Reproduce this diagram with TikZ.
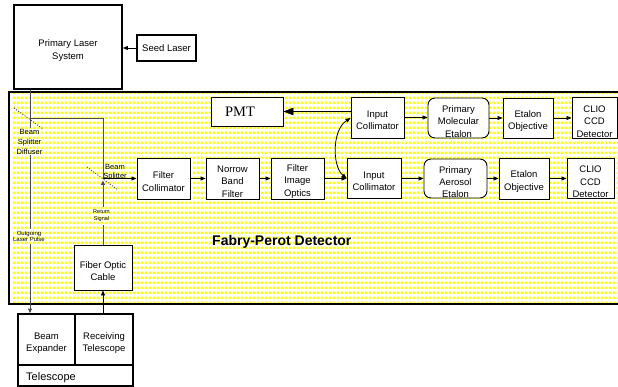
\documentclass[tikz,border=0pt]{standalone}
\usepackage{fontspec}
\setmainfont{Liberation Sans}
\newfontfamily\pmtfont{Liberation Serif}
\usetikzlibrary{arrows.meta,patterns}
\pgfdeclarepatternformonly{ydots}{\pgfqpoint{0pt}{0pt}}{\pgfqpoint{4.4pt}{4.6pt}}{\pgfqpoint{4.4pt}{4.6pt}}{\pgfpathrectangle{\pgfqpoint{1pt}{1.1pt}}{\pgfqpoint{2.5pt}{2.5pt}}\pgfusepath{fill}}
\begin{document}
\begin{tikzpicture}[x=1pt,y=-1pt,
  box/.style={draw, line width=0.9pt, fill=white, inner sep=0pt},
  bigbox/.style={draw, line width=1.7pt, fill=white, inner sep=0pt},
  rbox/.style={box, rounded corners=7pt},
  txt/.style={align=center, inner sep=0pt, font=\fontsize{9.5}{12.3}\selectfont},
  arr/.style={draw, line width=0.8pt, -{Triangle[length=5pt,width=4pt]}},
  glin/.style={draw=black!70, line width=0.9pt},
  splitter/.style={draw=black!80, line width=0.8pt, dash pattern=on 1pt off 1.6pt},
  small/.style={align=center, inner sep=0pt, font=\fontsize{7.5}{10}\selectfont}
]
\useasboundingbox (0,0) rectangle (618,387);
\clip (0,0) rectangle (618,387);

% Fabry-Perot detector region
\fill[white] (9,92) rectangle (640,304);
\fill[pattern=ydots, pattern color=yellow] (11,94) rectangle (640,302);
\draw[line width=1.7pt] (640,92) -- (9,92) -- (9,304) -- (640,304);
\node[anchor=west, inner sep=0pt, font=\bfseries\fontsize{14}{16}\selectfont] (fpd) at (212,242) {Fabry-Perot Detector};

% laser system
\node[bigbox, minimum width=108, minimum height=84] (laser) at (68,47) {};
\node[txt] (laser-t) at (68,50.5) {Primary Laser\\System};
\node[bigbox, minimum width=59, minimum height=26] (seed) at (166.5,48) {};
\node[txt] (seed-t) at (seed) {Seed Laser};
\draw[arr] (seed.west) -- (seed.west -| laser.east);

% upper row
\node[box, minimum width=72, minimum height=29] (pmt) at (247,111.5) {};
\node[inner sep=0pt, font=\pmtfont\fontsize{14.5}{16}\selectfont] (pmt-t) at (240,112) {PMT};
\node[box, minimum width=53, minimum height=41] (ic1) at (377.5,117.5) {};
\node[txt] (ic1-t) at (377.5,120.5) {Input\\Collimator};
\node[rbox, minimum width=61, minimum height=40] (pme) at (458.5,118) {};
\node[txt] (pme-t) at (458.5,121.5) {Primary\\Molecular\\Etalon};
\node[box, minimum width=50, minimum height=40] (eo1) at (528,118) {};
\node[txt] (eo1-t) at (528,121) {Etalon\\Objective};
\node[box, minimum width=45, minimum height=41] (ccd1) at (594.5,117.5) {};
\node[txt] (ccd1-t) at (594.5,121.5) {CLIO\\CCD\\Detector};

% lower row
\node[box, minimum width=53, minimum height=41] (fc) at (163.5,178.5) {};
\node[txt] (fc-t) at (163.5,181.5) {Filter\\Collimator};
\node[box, minimum width=53, minimum height=41] (nbf) at (232.5,178.5) {};
\node[txt] (nbf-t) at (232.5,181.5) {Norrow\\Band\\Filter};
\node[box, minimum width=53, minimum height=41] (fio) at (297.5,178.5) {};
\node[txt] (fio-t) at (297.5,181.5) {Filter\\Image\\Optics};
\node[box, minimum width=54, minimum height=40] (ic2) at (374,178.5) {};
\node[txt] (ic2-t) at (374,181.5) {Input\\Collimator};
\node[rbox, minimum width=63, minimum height=39] (pae) at (455.5,178.5) {};
\node[txt] (pae-t) at (455.5,182) {Primary\\Aerosol\\Etalon};
\node[box, minimum width=50, minimum height=41] (eo2) at (524,178.5) {};
\node[txt] (eo2-t) at (524,181.5) {Etalon\\Objective};
\node[box, minimum width=47, minimum height=40] (ccd2) at (590.5,178.5) {};
\node[txt] (ccd2-t) at (590.5,182) {CLIO\\CCD\\Detector};

% fiber optic
\node[box, minimum width=58, minimum height=45] (foc) at (103,267.5) {};
\node[txt] (foc-t) at (103,271) {Fiber Optic\\Cable};

% telescope
\node[bigbox, minimum width=115, minimum height=72] (tel) at (75.5,350) {};
\node[bigbox, minimum width=57, minimum height=51] (be) at (46.5,339.5) {};
\node[txt] (be-t) at (46.5,343) {Beam\\Expander};
\node[bigbox, minimum width=58, minimum height=51] (rt) at (104,339.5) {};
\node[txt] (rt-t) at (104,343) {Receiving\\Telescope};
\node[anchor=west, inner sep=0pt, font=\fontsize{11}{13}\selectfont] (tel-t) at (26,377.5) {Telescope};

% row connectors
\draw[arr] (ic1.east) -- (ic1.east -| pme.west);
\draw[arr] (pme.east) -- (pme.east -| eo1.west);
\draw[arr] (eo1.east) -- (eo1.east -| ccd1.west);
\draw[line width=0.8pt, -{Triangle[length=10pt,width=7.5pt]}] (ic1.west |- pmt.east) -- (pmt.east);
\draw[arr] (fc.east) -- (nbf.west);
\draw[arr] (nbf.east) -- (fio.west);
\draw[arr] (fio.east) -- (ic2.west);
\draw[arr] (ic2.east) -- (pae.west);
\draw[arr] (pae.east) -- (eo2.west);
\draw[arr] (eo2.east) -- (ccd2.west);
\draw[line width=0.8pt, {Triangle[length=5pt,width=4pt]}-{Triangle[length=5pt,width=4pt]}]
  (ic2.west) .. controls (332,166) and (332,130) .. ([yshift=-0.5pt]ic1.west);

% laser path and beam splitters
\coordinate (c1) at (30,118);
\coordinate (bs) at (103,178.5);
\coordinate (g1) at (30,128);
\coordinate (g2) at (30,155);
\coordinate (g3) at (30,229);
\coordinate (g4) at (30,244);
\coordinate (r1) at (103,207);
\coordinate (r2) at (103,225);
\draw[glin] (laser.south -| c1) -- (c1) -- (c1 -| bs) -- (bs);
\draw[glin] (c1) -- (g1);
\draw[glin] (g2) -- (g3);
\draw[glin, -{Triangle[length=4.5pt,width=4pt]}] (g4) -- (be.north -| g4);
\draw[glin] (foc.north) -- (r2);
\draw[glin, -{Triangle[length=4.5pt,width=4pt]}] (r1) -- ([yshift=-2pt]bs);
\draw[arr] (bs) -- (fc.west |- bs);
\draw[arr] (rt.north -| foc.south) -- (foc.south);
\coordinate (s1a) at (14,108);
\coordinate (s1b) at (43,129);
\coordinate (s2a) at (87,167);
\coordinate (s2b) at (118,190);
\draw[splitter] (s1a) -- (s1b);
\draw[splitter] (s2a) -- (s2b);

% small labels
\node[small] (bsd) at (29.5,141.5) {Beam\\Splitter\\Diffuser};
\node[small, font=\fontsize{7.5}{9}\selectfont] (bs-t) at (115,172) {Beam\\Splitter};
\node[small, font=\fontsize{5.5}{7.3}\selectfont] (rs-t) at (101.5,215.5) {Return\\Signal};
\node[small, font=\fontsize{6}{6.6}\selectfont] (olp-t) at (29,236.5) {Outgoing\\Laser Pulse};
\end{tikzpicture}
\end{document}
